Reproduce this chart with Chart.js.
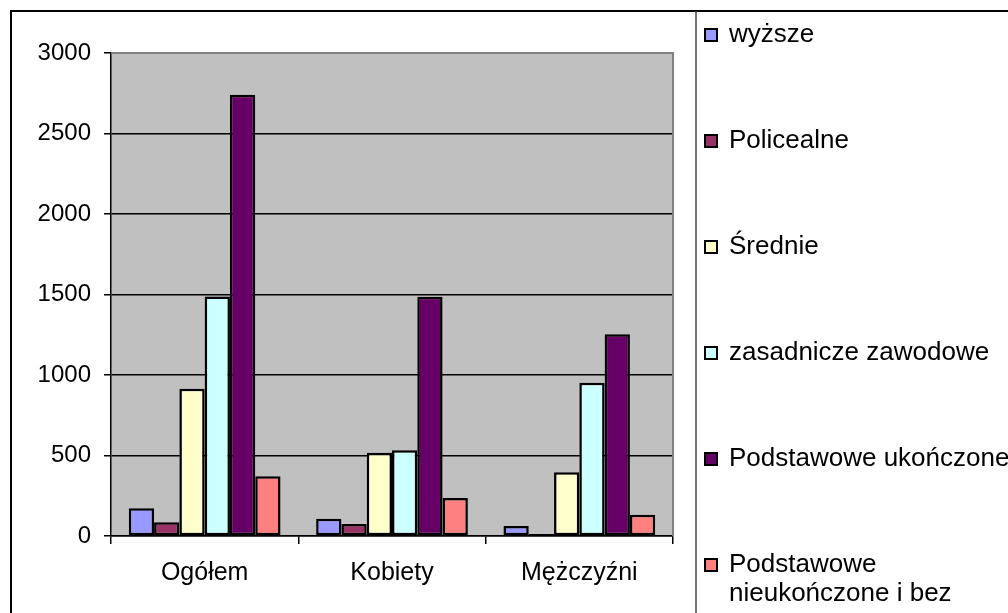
<!DOCTYPE html>
<html>
<head>
<meta charset="utf-8">
<script src="https://cdn.jsdelivr.net/npm/chart.js@4/dist/chart.umd.min.js"></script>
<style>
html,body{margin:0;padding:0;background:#fff;}
#wrap{position:relative;width:1008px;height:613px;}
</style>
</head>
<body>
<div id="wrap"><canvas id="c" width="1008" height="613"></canvas></div>
<script>
const categories = ['Ogółem', 'Kobiety', 'Mężczyźni'];
const seriesNames = ['wyższe', 'Policealne', 'Średnie', 'zasadnicze zawodowe', 'Podstawowe ukończone', 'Podstawowe nieukończone i bez'];
const wyzsze = [172, 107, 62];
const policealne = [85, 74, 12];
const srednie = [915, 517, 396];
const zasadnicze = [1487, 532, 952];
const podstawoweUkonczone = [2740, 1486, 1253];
const podstawoweNieukonczone = [371, 236, 132];
const yTicks = [0, 500, 1000, 1500, 2000, 2500, 3000];

const colors = ['#9999FF', '#993366', '#FFFFCC', '#CCFFFF', '#660066', '#FF8080'];
const seriesValues = [wyzsze, policealne, srednie, zasadnicze, podstawoweUkonczone, podstawoweNieukonczone];
const FONT = "'Liberation Sans', Arial, sans-serif";

const decor = {
  id: 'decor',
  beforeDraw(chart) {
    const {ctx, chartArea: a} = chart;
    ctx.save();
    ctx.fillStyle = '#fff';
    ctx.fillRect(0, 0, chart.width, chart.height);
    ctx.fillStyle = '#C0C0C0';
    ctx.fillRect(a.left, a.top, a.right - a.left, a.bottom - a.top);
    ctx.restore();
  },
  afterDraw(chart) {
    const {ctx, chartArea: a} = chart;
    ctx.save();
    ctx.strokeStyle = '#808080';
    ctx.lineWidth = 2;
    ctx.beginPath();
    ctx.moveTo(a.left, a.top);
    ctx.lineTo(a.right, a.top);
    ctx.lineTo(a.right, a.bottom);
    ctx.stroke();
    ctx.strokeStyle = '#000';
    ctx.lineWidth = 2;
    ctx.beginPath();
    ctx.moveTo(11, chart.height + 2);
    ctx.lineTo(11, 11);
    ctx.lineTo(chart.width + 2, 11);
    ctx.stroke();
    ctx.strokeStyle = '#444';
    ctx.lineWidth = 1.5;
    ctx.beginPath();
    ctx.moveTo(696, 11);
    ctx.lineTo(696, chart.height + 2);
    ctx.stroke();
    ctx.font = '26px ' + FONT;
    ctx.textBaseline = 'alphabetic';
    ctx.textAlign = 'left';
    const textX = 729, maxW = 290;
    chart.data.datasets.forEach((ds, i) => {
      const base = 42 + i * 106;
      ctx.fillStyle = ds.backgroundColor;
      ctx.fillRect(705, base - 13, 12, 12);
      ctx.strokeStyle = '#000';
      ctx.lineWidth = 2;
      ctx.strokeRect(705, base - 13, 12, 12);
      const words = ds.label.split(' ');
      const lines = [];
      let cur = '';
      words.forEach(w => {
        const t = cur ? cur + ' ' + w : w;
        if (cur && ctx.measureText(t).width > maxW) { lines.push(cur); cur = w; }
        else cur = t;
      });
      if (cur) lines.push(cur);
      ctx.fillStyle = '#000';
      lines.forEach((ln, j) => ctx.fillText(ln, textX, base + j * 29));
    });
    ctx.restore();
  }
};

new Chart(document.getElementById('c'), {
  type: 'bar',
  data: {
    labels: categories,
    datasets: seriesNames.map((name, i) => ({
      label: name,
      data: seriesValues[i],
      backgroundColor: colors[i],
      borderColor: '#000',
      borderWidth: 2.5,
      borderSkipped: false,
      categoryPercentage: 0.81,
      barPercentage: 1.0
    }))
  },
  options: {
    responsive: false,
    animation: false,
    devicePixelRatio: 1,
    layout: {padding: {left: 0, top: 53, right: 335, bottom: 0}},
    plugins: {legend: {display: false}, tooltip: {enabled: false}, title: {display: false}},
    scales: {
      x: {
        afterFit(s) { s.height = 77; },
        grid: {offset: true, drawOnChartArea: false, drawTicks: true, tickLength: 8, color: '#000', lineWidth: 1.5},
        border: {display: true, color: '#000', width: 1.5},
        ticks: {font: {family: FONT, size: 25}, color: '#000', padding: 14}
      },
      y: {
        min: 0, max: 3000,
        afterFit(s) { s.width = 111; },
        afterBuildTicks(s) { s.ticks = yTicks.map(v => ({value: v})); },
        grid: {color: '#000', lineWidth: 1.5, tickLength: 7, drawTicks: true, tickColor: '#000'},
        border: {display: true, color: '#000', width: 1.5},
        ticks: {font: {family: FONT, size: 24}, color: '#000', padding: 13, callback: v => String(v)}
      }
    }
  },
  plugins: [decor]
});
</script>
</body>
</html>
